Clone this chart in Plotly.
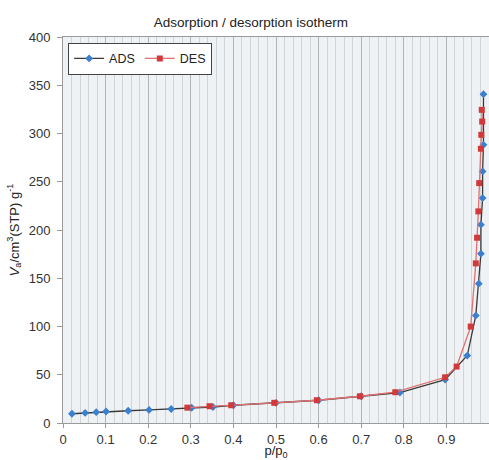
import plotly.graph_objects as go

# Adsorption branch
ads_p = [0.021, 0.052, 0.078, 0.101, 0.153, 0.202, 0.254, 0.302, 0.352, 0.400,
         0.500, 0.600, 0.700, 0.791, 0.897, 0.949, 0.969, 0.976, 0.981, 0.981,
         0.985, 0.985, 0.987, 0.987]
ads_v = [9.6, 10.4, 11.2, 11.9, 12.7, 13.6, 14.5, 15.8, 16.6, 18.4,
         20.9, 23.6, 27.7, 31.6, 45.0, 69.9, 111.3, 144.4, 175.5, 205.5,
         233.1, 260.7, 288.3, 340.8]

# Desorption branch
des_p = [0.983, 0.984, 0.982, 0.981, 0.977, 0.975, 0.972, 0.969, 0.957, 0.924,
         0.897, 0.780, 0.697, 0.596, 0.496, 0.395, 0.344, 0.292]
des_v = [324.5, 312.4, 298.6, 284.2, 248.6, 219.3, 192.0, 165.4, 99.9, 58.5,
         47.4, 31.9, 27.7, 23.6, 20.9, 18.4, 17.4, 15.9]

x_ticks = [0, 0.1, 0.2, 0.3, 0.4, 0.5, 0.6, 0.7, 0.8, 0.9, 1]
y_ticks = [0, 50, 100, 150, 200, 250, 300, 350, 400]

fig = go.Figure()
fig.add_trace(go.Scatter(
    x=ads_p, y=ads_v, name="ADS", mode="lines+markers",
    line=dict(color="#3a3a3a", width=1.3),
    marker=dict(symbol="diamond", size=6, color="#3b7fd0"),
))
fig.add_trace(go.Scatter(
    x=des_p, y=des_v, name="DES", mode="lines+markers",
    line=dict(color="#e07070", width=1.3),
    marker=dict(symbol="square", size=6, color="#d23a3a"),
))

fig.update_layout(
    width=489, height=460,
    margin=dict(l=63, r=0, t=37, b=37),
    paper_bgcolor="white",
    plot_bgcolor="#eff2f5",
    font=dict(family="Liberation Sans, Arial, sans-serif", size=13, color="#333"),
    title=dict(text="Adsorption / desorption isotherm", x=0.513, xanchor="center",
               y=0.952, yanchor="middle", font=dict(size=13.5, color="#222")),
    showlegend=True,
    legend=dict(orientation="h", x=0.012, y=0.985, xanchor="left", yanchor="top",
                bgcolor="white", bordercolor="#444", borderwidth=1,
                font=dict(size=12.5, color="#222"), itemwidth=30,
                tracegroupgap=0),
)
fig.update_xaxes(
    range=[0, 1], tickvals=x_ticks, showgrid=True, gridcolor="#b4b4b4", gridwidth=1,
    minor=dict(dtick=0.02, showgrid=True, gridcolor="#d2d4d6", gridwidth=1),
    showline=True, linecolor="#9a9a9a", linewidth=1, mirror=True,
    ticks="outside", ticklen=4, tickcolor="#9a9a9a",
    zeroline=False, tickfont=dict(size=13), automargin=False,
    title=dict(text="p/p<sub>0</sub>", standoff=7, font=dict(size=13, color="#222")),
)
fig.update_yaxes(
    range=[0, 400], tickvals=y_ticks, showgrid=False,
    showline=True, linecolor="#9a9a9a", linewidth=1, mirror=True,
    ticks="outside", ticklen=5, tickcolor="#9a9a9a", ticklabelstandoff=4,
    zeroline=False, tickfont=dict(size=13), automargin=False,
    title=dict(text="<i>V</i><sub>a</sub>/cm<sup>3</sup>(STP) g<sup>-1</sup>", standoff=6,
               font=dict(size=13, color="#222")),
)

fig.write_html("out.html")
